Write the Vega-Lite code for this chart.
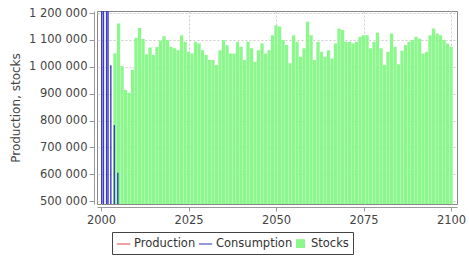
{
  "$schema": "https://vega.github.io/schema/vega-lite/v6.json",
  "width": 360,
  "height": 193,
  "autosize": {"type": "none"},
  "padding": {"left": 97, "top": 11, "right": 12, "bottom": 52},
  "background": "white",
  "config": {
    "view": {"stroke": "#888888", "strokeWidth": 1},
    "font": "DejaVu Sans",
    "axis": {
      "labelFont": "DejaVu Sans",
      "labelFontSize": 11.5,
      "labelColor": "#444444",
      "titleFont": "DejaVu Sans",
      "titleFontSize": 12,
      "titleFontWeight": "normal",
      "titleColor": "#444444",
      "domainColor": "#999999",
      "tickColor": "#999999",
      "gridColor": "#cccccc",
      "gridDash": [2, 2]
    }
  },
  "datasets": {
    "stocks": [
      {"year": 2004, "stocks": 1051000}, {"year": 2005, "stocks": 1161000}, {"year": 2006, "stocks": 1002000},
      {"year": 2007, "stocks": 914000}, {"year": 2008, "stocks": 903000}, {"year": 2009, "stocks": 988000},
      {"year": 2010, "stocks": 1108000}, {"year": 2011, "stocks": 1145000}, {"year": 2012, "stocks": 1104000},
      {"year": 2013, "stocks": 1047000}, {"year": 2014, "stocks": 1072000}, {"year": 2015, "stocks": 1044000},
      {"year": 2016, "stocks": 1074000}, {"year": 2017, "stocks": 1098000}, {"year": 2018, "stocks": 1114000},
      {"year": 2019, "stocks": 1100000}, {"year": 2020, "stocks": 1075000}, {"year": 2021, "stocks": 1069000},
      {"year": 2022, "stocks": 1062000}, {"year": 2023, "stocks": 1118000}, {"year": 2024, "stocks": 1093000},
      {"year": 2025, "stocks": 1056000}, {"year": 2026, "stocks": 1050000}, {"year": 2027, "stocks": 1093000},
      {"year": 2028, "stocks": 1087000}, {"year": 2029, "stocks": 1062000}, {"year": 2030, "stocks": 1044000},
      {"year": 2031, "stocks": 1025000}, {"year": 2032, "stocks": 1025000}, {"year": 2033, "stocks": 1007000},
      {"year": 2034, "stocks": 1062000}, {"year": 2035, "stocks": 1100000}, {"year": 2036, "stocks": 1080000},
      {"year": 2037, "stocks": 1050000}, {"year": 2038, "stocks": 1050000}, {"year": 2039, "stocks": 1093000},
      {"year": 2040, "stocks": 1075000}, {"year": 2041, "stocks": 1025000}, {"year": 2042, "stocks": 1093000},
      {"year": 2043, "stocks": 1069000}, {"year": 2044, "stocks": 1019000}, {"year": 2045, "stocks": 1062000},
      {"year": 2046, "stocks": 1087000}, {"year": 2047, "stocks": 1050000}, {"year": 2048, "stocks": 1062000},
      {"year": 2049, "stocks": 1118000}, {"year": 2050, "stocks": 1155000}, {"year": 2051, "stocks": 1150000},
      {"year": 2052, "stocks": 1100000}, {"year": 2053, "stocks": 1081000}, {"year": 2054, "stocks": 1013000},
      {"year": 2055, "stocks": 1118000}, {"year": 2056, "stocks": 1093000}, {"year": 2057, "stocks": 1038000},
      {"year": 2058, "stocks": 1069000}, {"year": 2059, "stocks": 1168000}, {"year": 2060, "stocks": 1118000},
      {"year": 2061, "stocks": 1025000}, {"year": 2062, "stocks": 1093000}, {"year": 2063, "stocks": 1056000},
      {"year": 2064, "stocks": 1038000}, {"year": 2065, "stocks": 1062000}, {"year": 2066, "stocks": 1031000},
      {"year": 2067, "stocks": 1087000}, {"year": 2068, "stocks": 1143000}, {"year": 2069, "stocks": 1137000},
      {"year": 2070, "stocks": 1093000}, {"year": 2071, "stocks": 1093000}, {"year": 2072, "stocks": 1087000},
      {"year": 2073, "stocks": 1093000}, {"year": 2074, "stocks": 1112000}, {"year": 2075, "stocks": 1118000},
      {"year": 2076, "stocks": 1118000}, {"year": 2077, "stocks": 1069000}, {"year": 2078, "stocks": 1093000},
      {"year": 2079, "stocks": 1127000}, {"year": 2080, "stocks": 1069000}, {"year": 2081, "stocks": 1007000},
      {"year": 2082, "stocks": 1056000}, {"year": 2083, "stocks": 1124000}, {"year": 2084, "stocks": 1075000},
      {"year": 2085, "stocks": 1010000}, {"year": 2086, "stocks": 1060000}, {"year": 2087, "stocks": 1081000},
      {"year": 2088, "stocks": 1093000}, {"year": 2089, "stocks": 1100000}, {"year": 2090, "stocks": 1112000},
      {"year": 2091, "stocks": 1105000}, {"year": 2092, "stocks": 1050000}, {"year": 2093, "stocks": 1056000},
      {"year": 2094, "stocks": 1118000}, {"year": 2095, "stocks": 1143000}, {"year": 2096, "stocks": 1124000},
      {"year": 2097, "stocks": 1118000}, {"year": 2098, "stocks": 1100000}, {"year": 2099, "stocks": 1087000},
      {"year": 2100, "stocks": 1075000}
    ],
    "consumption": [
      {"year": 2000.2, "consumption": 3000000},
      {"year": 2000.7, "consumption": 3000000},
      {"year": 2001.6, "consumption": 3000000},
      {"year": 2002.0, "consumption": 3000000},
      {"year": 2002.8, "consumption": 1006000},
      {"year": 2003.8, "consumption": 783000},
      {"year": 2004.8, "consumption": 605000}
    ],
    "legend": [
      {"series": "Production"}, {"series": "Consumption"}, {"series": "Stocks"}
    ]
  },
  "layer": [
    {
      "data": {"name": "stocks"},
      "mark": {"type": "bar", "color": "#8cf78c", "width": 3.3, "clip": true},
      "encoding": {
        "x": {
          "field": "year", "type": "quantitative",
          "scale": {"domain": [1998.85, 2101.7], "nice": false, "zero": false, "padding": 0},
          "axis": {"values": [2000, 2025, 2050, 2075, 2100], "format": "d", "title": null, "offset": 3, "tickSize": 4, "labelPadding": 3, "grid": true, "labelOverlap": false}
        },
        "y": {
          "field": "stocks", "type": "quantitative",
          "scale": {"domain": [489000, 1208000], "nice": false, "zero": false, "padding": 0},
          "axis": {"tickCount": 8, "labelExpr": "replace(format(datum.value, ','), /,/g, ' ')", "title": "Production, stocks", "offset": 3, "tickSize": 5, "labelPadding": 2, "titlePadding": 6, "grid": true, "labelOverlap": false, "labelSeparation": 0}
        }
      }
    },
    {
      "data": {"name": "consumption"},
      "mark": {"type": "rule", "color": "#3a3ac8", "strokeWidth": 1.4, "clip": true},
      "encoding": {
        "x": {"field": "year", "type": "quantitative"},
        "y": {"field": "consumption", "type": "quantitative"},
        "y2": {"datum": 0}
      }
    },
    {
      "data": {"name": "legend"},
      "transform": [{"filter": "false"}],
      "mark": {"type": "point", "filled": true},
      "encoding": {
        "color": {
          "field": "series", "type": "nominal",
          "scale": {"domain": ["Production", "Consumption", "Stocks"], "range": ["#e06666", "#5555cc", "#8cf78c"]},
          "legend": {
            "title": null, "orient": "none", "direction": "horizontal", "legendX": 15, "legendY": 221,
            "strokeColor": "#444444", "padding": 4, "fillColor": "white",
            "labelFont": "DejaVu Sans", "labelFontSize": 11.5, "labelColor": "#333333",
            "symbolOpacity": 1, "columnPadding": 0, "labelOffset": 3,
            "encode": {
              "symbols": {
                "update": {
                  "stroke": {"scale": "color", "field": "value"},
                  "fill": {"scale": "color", "field": "value"},
                  "strokeWidth": {"value": 1.2},
                  "size": {"signal": "datum.value === 'Stocks' ? 60 : 180"}
                }
              }
            }
          }
        },
        "shape": {
          "field": "series", "type": "nominal",
          "scale": {"domain": ["Production", "Consumption", "Stocks"], "range": ["stroke", "stroke", "square"]}
        }
      }
    }
  ]
}
